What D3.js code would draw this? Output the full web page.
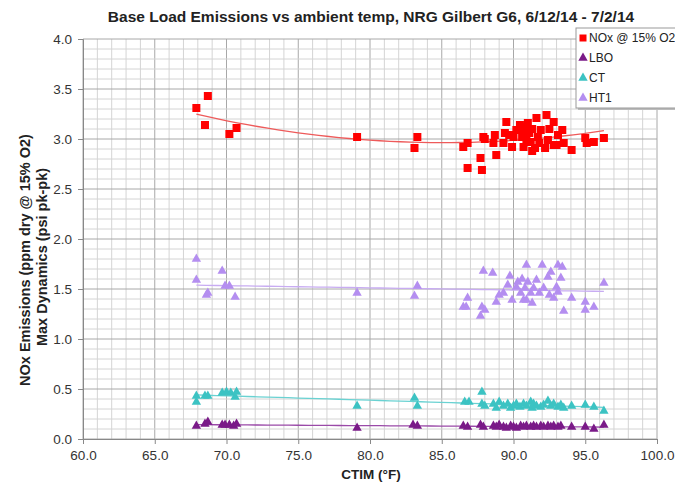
<!DOCTYPE html>
<html>
<head>
<meta charset="utf-8">
<script src="https://cdn.jsdelivr.net/npm/d3@7"></script>
<style>
  body { margin: 0; background: #fff; }
  text { font-family: "Liberation Sans", Arial, sans-serif; }
</style>
</head>
<body>
<div id="chart"></div>
<script>
// CTIM (deg F) and values
var noxX = [67.9, 68.7, 68.5, 70.2, 70.7, 79.1, 83.3, 83.1,
            86.5, 86.8, 86.8, 87.7, 87.8, 87.9, 88.0, 88.6, 88.8, 88.7, 89.3, 89.5, 89.4, 89.7,
            89.9, 90.0, 90.2, 90.45, 90.6, 90.7, 90.7, 90.8, 90.9, 91.0, 91.1, 91.2, 91.3, 91.3,
            91.5, 91.6, 91.7, 91.8, 91.9, 92.2, 92.3, 92.4, 92.5, 92.8, 92.8, 93.0, 93.1, 93.4,
            93.5, 94.05, 95.0, 95.1, 95.6, 96.3];
var noxY = [3.31, 3.43, 3.14, 3.05, 3.11, 3.02, 3.02, 2.91,
            2.92, 2.96, 2.71, 2.81, 2.69, 3.02, 3.00, 2.96, 2.84, 3.04, 2.96, 3.17, 3.06, 3.04,
            2.92, 3.02, 3.09, 3.14, 3.02, 3.07, 2.92, 3.12, 3.00, 3.16, 3.06, 2.97, 3.10, 2.88,
            2.91, 3.21, 3.02, 2.96, 3.09, 2.91, 3.24, 2.99, 3.10, 3.17, 2.94, 2.94, 3.04, 3.09,
            2.96, 2.89, 3.01, 2.96, 2.97, 3.01];

var lboX = [67.9, 68.5, 68.7, 69.7, 69.9, 70.2, 70.5, 70.7, 79.1, 83.0, 83.3,
            86.5, 86.8, 87.7, 87.9, 88.6, 88.8, 89.0, 89.3, 89.5, 89.8, 90.0, 90.2, 90.5, 90.7,
            90.9, 91.2, 91.4, 91.6, 91.9, 92.1, 92.4, 92.6, 92.8, 93.1, 93.3, 94.05, 95.0, 95.6, 96.3];
var lboY = [0.13, 0.15, 0.17, 0.14, 0.14, 0.14, 0.13, 0.15, 0.11, 0.14, 0.13,
            0.13, 0.12, 0.14, 0.12, 0.13, 0.12, 0.14, 0.12, 0.11, 0.13, 0.12, 0.11, 0.13, 0.12,
            0.13, 0.12, 0.13, 0.12, 0.13, 0.12, 0.13, 0.12, 0.13, 0.12, 0.13, 0.12, 0.12, 0.10, 0.14];

var ctX = [67.9, 67.9, 68.5, 68.7, 69.7, 70.0, 70.3, 70.6, 70.7, 79.1, 83.1, 83.3,
           86.6, 86.9, 87.8, 87.8, 88.0, 88.6, 88.8, 89.0, 89.3, 89.6, 89.8, 90.0, 90.2, 90.45,
           90.7, 90.9, 91.2, 91.3, 91.4, 91.6, 91.9, 92.1, 92.4, 92.6, 92.8, 93.1, 93.3, 93.5,
           94.05, 95.0, 95.6, 96.3];
var ctY = [0.43, 0.37, 0.43, 0.43, 0.46, 0.47, 0.46, 0.42, 0.47, 0.33, 0.41, 0.33,
           0.37, 0.37, 0.47, 0.35, 0.33, 0.35, 0.31, 0.37, 0.33, 0.35, 0.31, 0.33, 0.35, 0.32,
           0.35, 0.33, 0.37, 0.31, 0.35, 0.33, 0.32, 0.34, 0.38, 0.33, 0.35, 0.32, 0.34, 0.31,
           0.33, 0.34, 0.32, 0.28];

var ht1X = [67.9, 67.9, 68.6, 68.7, 69.7, 69.9, 70.2, 70.6, 79.1, 83.3, 83.1,
            86.5, 86.7, 86.8, 87.7, 87.8, 88.0, 87.9, 88.55, 88.8, 89.0, 89.3, 89.6, 89.75, 89.9,
            90.2, 90.3, 90.5, 90.6, 90.7, 90.8, 90.9, 90.9, 91.0, 91.2, 91.3, 91.4, 91.6, 91.8,
            92.0, 92.1, 92.4, 92.5, 92.6, 92.8, 93.0, 93.1, 93.1, 93.3, 93.4, 93.5, 94.05,
            95.0, 95.0, 95.6, 96.3];
var ht1Y = [1.80, 1.59, 1.44, 1.46, 1.68, 1.53, 1.53, 1.42, 1.46, 1.53, 1.43,
            1.32, 1.32, 1.41, 1.23, 1.32, 1.29, 1.68, 1.66, 1.37, 1.44, 1.46, 1.54, 1.63, 1.39,
            1.52, 1.57, 1.46, 1.60, 1.39, 1.51, 1.74, 1.39, 1.57, 1.46, 1.36, 1.51, 1.59, 1.46,
            1.74, 1.51, 1.62, 1.44, 1.67, 1.41, 1.52, 1.74, 1.47, 1.61, 1.72, 1.28, 1.41,
            1.37, 1.29, 1.32, 1.56];

var xTicks = [60, 65, 70, 75, 80, 85, 90, 95, 100];
var yTicks = [0, 0.5, 1, 1.5, 2, 2.5, 3, 3.5, 4];

var seriesNames = ["NOx @ 15% O2", "LBO", "CT", "HT1"];
var seriesColors = ["#ff0000", "#7a1a88", "#3cc3c3", "#b48ef0"];
var trendColors = ["#ee5a5a", "#9a4aa8", "#6ad2d2", "#c8acf2"];

var width = 675, height = 484;
var margin = {left: 83, right: 18, top: 39, bottom: 45};

var svg = d3.select("#chart").append("svg")
    .attr("width", width).attr("height", height);

var x = d3.scaleLinear().domain([60, 100]).range([margin.left, width - margin.right]);
var y = d3.scaleLinear().domain([0, 4]).range([height - margin.bottom, margin.top]);

// grid, minor then major
var minorX = d3.range(60, 101, 1);
var minorY = d3.range(0, 41, 1).map(function(d){ return d / 10; });

svg.selectAll(".gx").data(minorX).enter().append("line")
    .attr("x1", function(d){ return x(d); }).attr("x2", function(d){ return x(d); })
    .attr("y1", y(0)).attr("y2", y(4))
    .attr("stroke", function(d){ return d % 5 == 0 ? "#a8a8a8" : "#d4d4d4"; })
    .attr("stroke-width", 1);

svg.selectAll(".gy").data(minorY).enter().append("line")
    .attr("x1", x(60)).attr("x2", x(100))
    .attr("y1", function(d){ return y(d); }).attr("y2", function(d){ return y(d); })
    .attr("stroke", function(d){ return Math.round(d * 10) % 5 == 0 ? "#a8a8a8" : "#d4d4d4"; })
    .attr("stroke-width", 1);

var xAxis = d3.axisBottom(x).tickValues(xTicks).tickSize(5).tickPadding(6)
    .tickFormat(d3.format(".1f"));
var yAxis = d3.axisLeft(y).tickValues(yTicks).tickSize(5).tickPadding(6)
    .tickFormat(d3.format(".1f"));

var gx = svg.append("g").attr("transform", "translate(0," + y(0) + ")").call(xAxis);
var gy = svg.append("g").attr("transform", "translate(" + x(60) + ",0)").call(yAxis);
[gx, gy].forEach(function(g){
    g.selectAll("path,line").attr("stroke", "#888");
    g.selectAll("text").attr("font-size", 13.5).attr("fill", "#333")
        .style("font-family", "'Liberation Sans', Arial, sans-serif");
});

// trendlines (least squares)
function polyFit(xs, ys, order)
{
    var n = order + 1;
    var A = [], b = [];
    for(var i = 0; i < n; i++){
        A.push([]);
        b.push(0);
        for(var j = 0; j < n; j++){ A[i].push(0); }
    }
    for(var k = 0; k < xs.length; k++){
        for(var i = 0; i < n; i++){
            b[i] += ys[k] * Math.pow(xs[k], i);
            for(var j = 0; j < n; j++){ A[i][j] += Math.pow(xs[k], i + j); }
        }
    }
    for(var i = 0; i < n; i++){
        for(var r = i + 1; r < n; r++){
            var f = A[r][i] / A[i][i];
            for(var c = i; c < n; c++){ A[r][c] -= f * A[i][c]; }
            b[r] -= f * b[i];
        }
    }
    var coef = new Array(n);
    for(var i = n - 1; i >= 0; i--){
        var s = b[i];
        for(var c = i + 1; c < n; c++){ s -= A[i][c] * coef[c]; }
        coef[i] = s / A[i][i];
    }
    return function(v){
        var s = 0;
        for(var i = 0; i < n; i++){ s += coef[i] * Math.pow(v, i); }
        return s;
    };
}

var allX = [noxX, lboX, ctX, ht1X];
var allY = [noxY, lboY, ctY, ht1Y];
var orders = [2, 1, 1, 1];

var line = d3.line().x(function(d){ return x(d[0]); }).y(function(d){ return y(d[1]); });

for(var s = 0; s < 4; s++){
    var fit = polyFit(allX[s], allY[s], orders[s]);
    var x0 = d3.min(allX[s]), x1 = d3.max(allX[s]);
    var pts = d3.range(0, 41).map(function(i){
        var v = x0 + (x1 - x0) * i / 40;
        return [v, fit(v)];
    });
    svg.append("path").datum(pts)
        .attr("d", line)
        .attr("fill", "none")
        .attr("stroke", trendColors[s])
        .attr("stroke-width", 1.3);
}

var tri = d3.symbol().type(d3.symbolTriangle).size(38);

// markers: draw HT1, CT, LBO then NOx
for(var s = 3; s >= 0; s--){
    var pts = allX[s].map(function(v, i){ return [v, allY[s][i]]; });
    if(s == 0){
        svg.selectAll(".nox").data(pts).enter().append("rect")
            .attr("x", function(d){ return x(d[0]) - 4; })
            .attr("y", function(d){ return y(d[1]) - 4; })
            .attr("width", 8).attr("height", 8)
            .attr("fill", seriesColors[0]);
    } else {
        svg.selectAll(".s" + s).data(pts).enter().append("path")
            .attr("d", tri)
            .attr("transform", function(d){ return "translate(" + x(d[0]) + "," + y(d[1]) + ")"; })
            .attr("fill", seriesColors[s]);
    }
}

// title
svg.append("text")
    .text("Base Load Emissions vs ambient temp, NRG Gilbert G6, 6/12/14 - 7/2/14")
    .attr("x", 371).attr("y", 22)
    .attr("text-anchor", "middle")
    .attr("font-size", 15.5).attr("font-weight", "bold").attr("fill", "#222");

// axis titles
svg.append("text").text("CTIM (°F)")
    .attr("x", 371).attr("y", 479)
    .attr("text-anchor", "middle")
    .attr("font-size", 13.5).attr("font-weight", "bold").attr("fill", "#222");

svg.append("text").text("NOx Emissions (ppm dry @ 15% O2)")
    .attr("transform", "translate(30,260) rotate(-90)")
    .attr("text-anchor", "middle")
    .attr("font-size", 14.5).attr("font-weight", "bold").attr("fill", "#222");

svg.append("text").text("Max Dynamics (psi pk-pk)")
    .attr("transform", "translate(47,257) rotate(-90)")
    .attr("text-anchor", "middle")
    .attr("font-size", 14.5).attr("font-weight", "bold").attr("fill", "#222");

// legend
var legend = svg.append("g").attr("transform", "translate(576,28)");
legend.append("rect")
    .attr("x", 2).attr("y", 2).attr("width", 110).attr("height", 80)
    .attr("fill", "#bbb");
legend.append("rect")
    .attr("x", 0).attr("y", 0).attr("width", 110).attr("height", 80)
    .attr("fill", "#fff").attr("stroke", "#999");

var size = 20;
legend.selectAll("text").data(seriesNames).enter().append("text")
    .text(function(d){ return d; })
    .attr("x", 13)
    .attr("y", function(d, i){ return 14 + i * size; })
    .attr("font-size", 12).attr("fill", "#222");

legend.selectAll(".lm").data(seriesNames).enter().append("path")
    .attr("d", function(d, i){
        return i == 0 ? d3.symbol().type(d3.symbolSquare).size(49)() : tri();
    })
    .attr("transform", function(d, i){ return "translate(7," + (10 + i * size) + ")"; })
    .attr("fill", function(d, i){ return seriesColors[i]; });
</script>
</body>
</html>
